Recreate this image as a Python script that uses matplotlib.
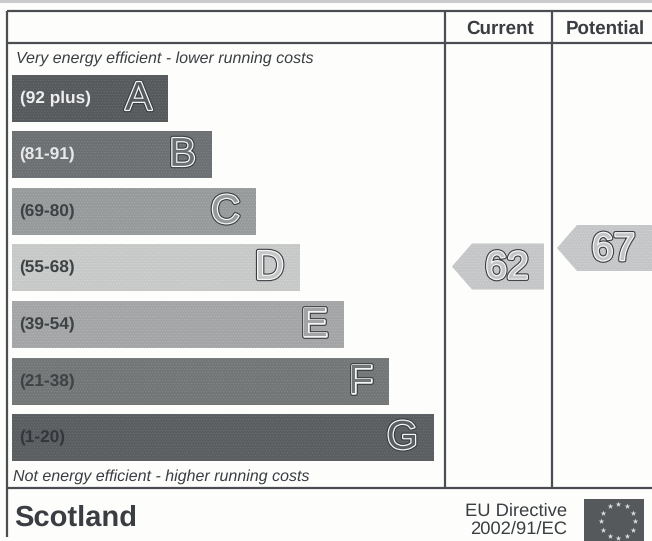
import matplotlib
matplotlib.use('Agg')
import matplotlib.pyplot as plt
import matplotlib.patheffects as pe
from matplotlib.patches import Polygon
import numpy as np

bands = ['A', 'B', 'C', 'D', 'E', 'F', 'G']
ranges = ['(92 plus)', '(81-91)', '(69-80)', '(55-68)', '(39-54)', '(21-38)', '(1-20)']
bar_lengths = [156, 200, 244, 288, 332, 377, 422]
bar_colors = ['#565a5c', '#6c7072', '#979a9b', '#c6c8c8', '#a2a4a5', '#737677', '#5b5e60']
bar_dots = ['#6a6e70', '#808486', '#aaadae', '#d6d8d8', '#b4b6b7', '#87898a', '#6e7173']
range_colors = ['#eeeeee', '#e8e8e8', '#3f4244', '#3f4244', '#3f4244', '#3f4244', '#33363a']
column_names = ['Current', 'Potential']
scores = [62, 67]

LINE = '#4a4e52'
TEXT = '#3a3e42'
plt.rcParams['font.family'] = ['Liberation Sans', 'DejaVu Sans']
plt.rcParams['text.hinting'] = 'no_hinting'
plt.rcParams['hatch.linewidth'] = 0.4

outline = [pe.Stroke(linewidth=3.4, foreground='#3a3e42'),
           pe.Stroke(linewidth=1.8, foreground='#f6f6f6'),
           pe.Normal()]

fig = plt.figure(figsize=(6.52, 5.41), dpi=100, facecolor='#fdfdfc')
ax = fig.add_axes([0, 0, 1, 1])
ax.set_xlim(0, 652)
ax.set_ylim(541, 0)
ax.axis('off')

# scan edge at the top
ax.axhspan(0, 2.5, color='#c9cbcc', lw=0)

# frame
ax.hlines([11, 43, 488], 7, 652, color=LINE, lw=1.6)
ax.vlines(7, 11, 537, color=LINE, lw=1.6)
ax.vlines([445, 552], 11, 488, color=LINE, lw=1.6)

# rating bars
bar_y = [98.5, 154.5, 211.5, 267.5, 324.5, 381.5, 437.5]
ax.barh(bar_y, bar_lengths, height=47, left=12, color=bar_colors, edgecolor=bar_dots, hatch='......', lw=0)
for y, n, r, rc, c, b in zip(bar_y, bar_lengths, ranges, range_colors, bar_colors, bands):
    ax.text(19.5, y, r, color=rc, fontsize=12.4, fontweight='bold', va='center', ha='left')
    ax.text(12 + n - 16, y + 1, b, color=c, fontsize=29, va='center', ha='right', path_effects=outline)

ax.text(16, 59, 'Very energy efficient - lower running costs', fontsize=11.5, style='italic', color=TEXT, va='center')
ax.text(13, 477, 'Not energy efficient - higher running costs', fontsize=11.5, style='italic', color=TEXT, va='center')

# headers
ax.text(500, 29, column_names[0], fontsize=13.5, fontweight='bold', color=TEXT, ha='center', va='center')
ax.text(605.5, 29, column_names[1], fontsize=13.5, fontweight='bold', color=TEXT, ha='center', va='center')

# score arrows, height follows the score
arrow_left = [452, 557]
arrow_right = [544, 652]
for s, l, r in zip(scores, arrow_left, arrow_right):
    yc = 266.5 - (s - 62) * 3.7
    ax.add_patch(Polygon([(l, yc), (l + 20, yc - 23), (r, yc - 23), (r, yc + 23), (l + 20, yc + 23)],
                         closed=True, facecolor='#c3c5c6', edgecolor='#d4d6d6', hatch='......', lw=0))
    ax.text((l + r) / 2 + 9, yc + 2, str(s), fontsize=28, color='#c3c5c6', ha='center', va='center',
            path_effects=outline)

# footer
ax.text(14, 518, 'Scotland', fontsize=21, fontweight='bold', color=TEXT, va='center')
ax.text(567, 511, 'EU Directive', fontsize=13.2, color=TEXT, ha='right', va='center')
ax.text(567, 529, '2002/91/EC', fontsize=13.2, color=TEXT, ha='right', va='center')

# EU flag
ax.fill_between([584, 644], 499, 541, color='#55595c', lw=0)
angles = np.deg2rad(np.arange(0, 360, 30))
ax.scatter(618 + 17 * np.cos(angles), 521 + 17 * np.sin(angles), marker='*', s=18, color='#dcdcdc', lw=0)

fig.savefig('out.png', dpi=100, facecolor=fig.get_facecolor())
